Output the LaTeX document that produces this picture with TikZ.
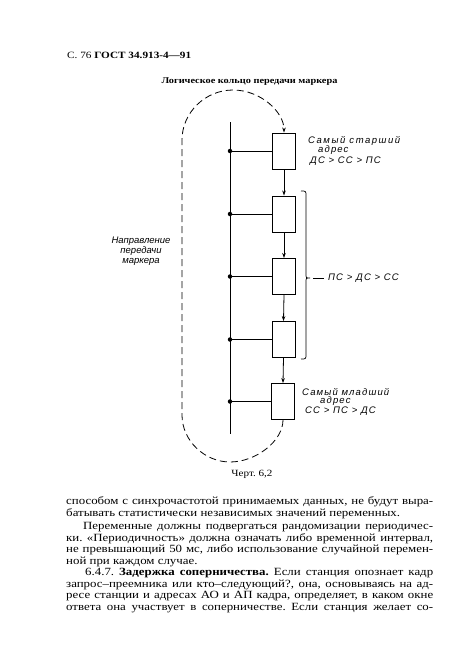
\documentclass[tikz,border=0pt]{standalone}
\usepackage{fontspec}
\setmainfont{Liberation Serif}
\newfontfamily\bodyfont[FakeStretch=1.17]{Liberation Serif}
\newfontfamily\handA[LetterSpace=16]{Liberation Sans}
\newfontfamily\handB[LetterSpace=12]{Liberation Sans}
\newfontfamily\handC{Liberation Sans}
\usetikzlibrary{arrows.meta}
\frenchspacing
\tikzset{
  box/.style={draw, line width=0.9pt, minimum width=23pt, minimum height=36pt, inner sep=0pt},
  busdot/.style={circle, fill, inner sep=0pt, minimum size=4.5pt},
  flow/.style={-{Stealth[length=5pt,width=3.5pt]}, line width=0.8pt},
  ring/.style={dash pattern=on 7pt off 4pt, line width=0.8pt},
  lblA/.style={anchor=west, inner sep=0pt, font=\handA\itshape\fontsize{9.5}{10}\selectfont},
  lblB/.style={anchor=west, inner sep=0pt, font=\handB\itshape\fontsize{9.5}{10}\selectfont},
  bodyline/.style={anchor=west, inner sep=0pt, font=\bodyfont\fontsize{11}{12}\selectfont}
}
\begin{document}
\frenchspacing
\begin{tikzpicture}[x=1pt,y=-1pt]
\fill[white] (0,0) rectangle (466,661);
\useasboundingbox (0,0) rectangle (466,661);

% header and title
\node[anchor=west, inner sep=0pt] (hdr) at (67,55) {\bodyfont\fontsize{9.6}{12}\selectfont С. 76 \textbf{ГОСТ 34.913-4—91}};
\node[inner sep=0pt] (title) at (249.5,82) {\bodyfont\bfseries\fontsize{8.8}{11}\selectfont Логическое кольцо передачи маркера};

% bus
\coordinate (bustop) at (230,122);
\coordinate (busbot) at (230,434);
\draw[line width=1pt] (bustop) -- (busbot);

% stations
\node[box] (b1) at (284,151) {};
\node[box] (b2) at (284,214) {};
\node[box] (b3) at (284,276.5) {};
\node[box] (b4) at (283.5,339.5) {};
\node[box] (b5) at (283,401.5) {};

\node[busdot] (d1) at (230,151) {};
\node[busdot] (d2) at (230,214) {};
\node[busdot] (d3) at (230,276.5) {};
\node[busdot] (d4) at (230,339.5) {};
\node[busdot] (d5) at (230,401.5) {};

\foreach \i in {1,...,5}{\draw[line width=0.8pt] (d\i.center) -- (b\i.west);}

\draw[flow] (b1.south) -- (b2.north);
\draw[flow] (b2.south) -- (b3.north);
\draw[flow] (b3.south) -- (b4.north);
\draw[flow] (b4.south) -- (b5.north);

% logical ring
\draw[ring, -{Stealth[length=5pt,width=3.5pt]}] (b5.south)
  .. controls (283,441) and (256,462) .. (230,462)
  .. controls (205,462) and (182,441) .. (182,415)
  -- (182,140)
  .. controls (182,112.4) and (205.4,90) .. (233,90)
  .. controls (260.6,90) and (284,112) .. (b1.north);

% brace
\coordinate (bt) at (301,191);
\coordinate (btip) at (310,278);
\coordinate (bb) at (301,359);
\draw[line width=0.7pt] (bt) .. controls (306,191) .. (306,196) -- (306,274)
  .. controls (306,278) .. (btip) .. controls (306,278) .. (306,282) -- (306,354)
  .. controls (306,359) .. (bb);
\coordinate (dashA) at (313,278);
\coordinate (dashB) at (324,278);
\draw[line width=0.7pt] (dashA) -- (dashB);
\node[lblB] (midlbl) at (328,278) {ПС > ДС > СС};

% top label
\node[lblA] (t1) at (308,141) {Самый старший};
\node[lblB] (t2) at (318,150.5) {адрес};
\node[lblB] (t3) at (310,161) {ДС > СС > ПС};

% bottom label
\node[lblB] (u1) at (302,392.5) {Самый младший};
\node[lblB] (u2) at (320,401.5) {адрес};
\node[lblB] (u3) at (305,411) {СС > ПС > ДС};

% left label
\node[inner sep=0pt, align=center, font=\handC\itshape\fontsize{9.5}{10}\selectfont] (dir) at (141,251) {Направление\\передачи\\маркера};

% caption
\node[inner sep=0pt] (cap) at (252,474) {\bodyfont\fontsize{9.5}{11}\selectfont Черт. 6,2};

% body text
\node[bodyline] (l1) at (66,502) {\makebox[367pt][s]{способом с синхрочастотой принимаемых данных, не будут выра-}};
\node[bodyline] (l2) at (66,513.5) {батывать статистически независимых значений переменных.};
\node[bodyline] (l3) at (83,527) {\makebox[350pt][s]{Переменные должны подвергаться рандомизации периодичес-}};
\node[bodyline] (l4) at (66,538.5) {\makebox[367pt][s]{ки. «Периодичность» должна означать либо временной интервал,}};
\node[bodyline] (l5) at (66,550) {\makebox[367pt][s]{не превышающий 50 мс, либо использование случайной перемен-}};
\node[bodyline] (l6) at (66,561.5) {ной при каждом случае.};
\node[bodyline] (l7) at (85,573) {\makebox[348pt][s]{6.4.7. \textbf{Задержка соперничества.} Если станция опознает кадр}};
\node[bodyline] (l8) at (66,585) {\makebox[367pt][s]{запрос–преемника или кто–следующий?, она, основываясь на ад-}};
\node[bodyline] (l9) at (66,596.5) {\makebox[367pt][s]{ресе станции и адресах АО и АП кадра, определяет, в каком окне}};
\node[bodyline] (l10) at (66,608) {\makebox[367pt][s]{ответа она участвует в соперничестве. Если станция желает со-}};
\end{tikzpicture}
\end{document}
